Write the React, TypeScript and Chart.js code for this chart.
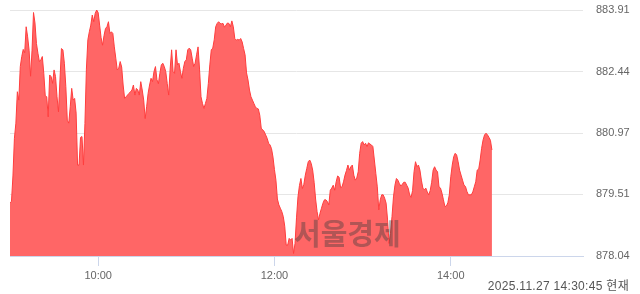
import React, { useEffect, useRef } from "react";
import { Chart, registerables } from "chart.js";

Chart.register(...registerables);

// Minute-by-minute index values starting at 09:00
const startMinuteOfDay = 9 * 60;
const values: number[] = [
  879.31, 879.34, 879.95, 880.85, 881.21, 881.96, 881.76, 882.56, 882.80, 882.97,
  882.89, 883.51, 883.27, 882.95, 882.33, 882.95, 883.85, 883.60, 883.11, 882.88,
  882.68, 882.72, 882.80, 882.40, 881.86, 881.84, 881.36, 882.36, 882.32, 882.16,
  882.48, 882.32, 881.84, 881.48, 882.24, 882.99, 882.96, 882.64, 882.08, 881.28,
  881.21, 881.60, 882.04, 881.76, 881.80, 881.45, 880.21, 880.21, 880.87, 880.89,
  880.21, 881.20, 882.50, 883.20, 883.39, 883.55, 883.79, 883.63, 883.83, 883.91,
  883.85, 883.55, 883.25, 883.07, 883.30, 883.47, 883.51, 883.63, 883.35, 883.39,
  883.35, 883.03, 882.76, 882.48, 882.52, 882.68, 882.55, 882.12, 881.80, 881.84,
  881.88, 881.92, 881.96, 882.00, 882.12, 881.88, 882.04, 882.00, 881.88, 882.20,
  882.00, 881.76, 881.32, 881.60, 881.92, 882.12, 882.28, 882.20, 882.44, 882.56,
  882.25, 882.15, 882.40, 882.60, 882.64, 882.56, 882.44, 882.16, 881.88, 882.50,
  882.96, 882.44, 882.40, 882.96, 882.60, 882.64, 882.44, 882.28, 882.52, 882.68,
  882.72, 882.96, 883.00, 882.96, 882.76, 882.56, 882.64, 882.84, 883.03, 882.50,
  881.84, 881.68, 881.56, 881.68, 881.80, 882.16, 882.60, 882.96, 883.00, 883.20,
  883.51, 883.59, 883.63, 883.59, 883.58, 883.59, 883.50, 883.55, 883.60, 883.59,
  883.51, 883.65, 883.51, 883.23, 883.19, 883.21, 883.19, 883.23, 883.15, 882.99,
  882.84, 882.41, 882.24, 882.00, 881.84, 881.76, 881.68, 881.60, 881.56, 881.55,
  881.40, 881.09, 881.05, 881.01, 880.93, 880.85, 880.73, 880.69, 880.60, 880.40,
  880.10, 879.85, 879.40, 879.26, 879.18, 879.10, 878.98, 878.75, 878.30, 878.30,
  878.46, 878.42, 878.46, 878.10, 878.34, 878.95, 879.45, 879.72, 879.89, 879.65,
  879.75, 879.97, 880.13, 880.29, 880.33, 880.25, 880.09, 879.80, 879.40, 879.10,
  878.90, 879.06, 879.18, 879.30, 879.38, 879.38, 879.34, 879.26, 879.61, 879.66,
  879.73, 879.61, 879.81, 879.95, 879.92, 879.67, 879.69, 879.81, 879.97, 880.08,
  880.21, 880.09, 880.17, 880.21, 879.97, 879.85, 879.90, 880.05, 880.49, 880.73,
  880.77, 880.69, 880.73, 880.65, 880.74, 880.71, 880.69, 880.65, 880.33, 880.01,
  879.69, 879.14, 879.38, 879.50, 879.50, 879.42, 879.30, 878.90, 878.34, 878.58,
  878.98, 879.45, 879.73, 879.89, 879.85, 879.77, 879.71, 879.75, 879.80, 879.80,
  879.73, 879.66, 879.50, 879.44, 879.60, 880.05, 880.29, 880.17, 880.21, 880.09,
  879.85, 879.66, 879.62, 879.66, 879.57, 879.50, 879.60, 879.80, 880.09, 880.17,
  880.09, 880.05, 879.69, 879.66, 879.54, 879.38, 879.22, 879.23, 879.31, 879.50,
  879.93, 880.21, 880.41, 880.49, 880.45, 880.29, 880.09, 879.97, 879.85, 879.73,
  879.70, 879.58, 879.50, 879.50, 879.50, 879.57, 879.69, 879.81, 880.09, 880.11,
  880.33, 880.61, 880.81, 880.93, 880.97, 880.93, 880.87, 880.80, 880.57,
];

const xMinMinute = 9 * 60;
const xMaxMinute = 15 * 60 + 30;
const xTickMinutes = [10 * 60, 12 * 60, 14 * 60];
const xTickLabels = ["10:00", "12:00", "14:00"];
const yTicks = [878.04, 879.51, 880.97, 882.44, 883.91];
const yTickLabels = ["878.04", "879.51", "880.97", "882.44", "883.91"];
const watermark = "서울경제";
const timestamp = "2025.11.27 14:30:45 현재";

const FONT = '"Liberation Sans", Arial, "Noto Sans CJK KR", sans-serif';

export default function App() {
  const canvasRef = useRef<HTMLCanvasElement | null>(null);

  useEffect(() => {
    document.body.style.margin = "0";
    const canvas = canvasRef.current;
    if (!canvas) return;
    const points = values.map((v, i) => ({ x: startMinuteOfDay + i, y: v }));
    const chart = new Chart(canvas, {
      type: "line",
      data: {
        datasets: [
          {
            data: points,
            borderColor: "#ff3d3d",
            borderWidth: 1,
            backgroundColor: "#ff6666",
            fill: "start",
            pointRadius: 0,
            tension: 0,
          },
        ],
      },
      options: {
        responsive: false,
        animation: false,
        devicePixelRatio: 1,
        layout: { padding: { left: 10, top: 10, right: 0, bottom: 0 } },
        plugins: { legend: { display: false }, tooltip: { enabled: false } },
        scales: {
          x: {
            type: "linear",
            min: xMinMinute,
            max: xMaxMinute,
            afterBuildTicks: (scale: any) => {
              scale.ticks = xTickMinutes.map((v) => ({ value: v }));
            },
            afterFit: (scale: any) => {
              scale.height = 38;
            },
            ticks: {
              autoSkip: false,
              maxRotation: 0,
              padding: 3,
              color: "#666666",
              font: { family: FONT, size: 11 },
              callback: (_v: any, i: number) => xTickLabels[i],
            },
            grid: {
              drawOnChartArea: false,
              drawTicks: true,
              tickLength: 10,
              color: "#ccd6eb",
            },
            border: { display: true, color: "#ccd6eb", width: 1 },
          },
          y: {
            position: "right",
            min: yTicks[0],
            max: yTicks[yTicks.length - 1],
            afterBuildTicks: (scale: any) => {
              scale.ticks = yTicks.map((v) => ({ value: v }));
            },
            afterFit: (scale: any) => {
              scale.width = 57;
            },
            ticks: {
              padding: 0,
              color: "#666666",
              font: { family: FONT, size: 11 },
              callback: (_v: any, i: number) => yTickLabels[i],
            },
            grid: {
              drawTicks: true,
              tickLength: 13,
              tickColor: "rgba(0,0,0,0)",
              color: (ctx: any) =>
                ctx.tick && ctx.tick.value === yTicks[0] ? "rgba(0,0,0,0)" : "#e6e6e6",
            },
            border: { display: false },
          },
        },
      },
    } as any);
    return () => chart.destroy();
  }, []);

  return (
    <div style={{ position: "relative", width: 640, height: 294, background: "#fff" }}>
      <canvas ref={canvasRef} width={640} height={294} style={{ display: "block", width: 640, height: 294 }} />
      <div
        style={{
          position: "absolute",
          left: 294,
          top: 215,
          fontFamily: '"Noto Sans CJK KR", sans-serif',
          fontWeight: 700,
          fontSize: 29,
          lineHeight: "34px",
          color: "rgba(60,60,60,0.4)",
          pointerEvents: "none",
          whiteSpace: "nowrap",
        }}
      >
        {watermark}
      </div>
      <div
        style={{
          position: "absolute",
          right: 11,
          top: 278,
          fontFamily: FONT,
          fontSize: 12,
          lineHeight: "16px",
          letterSpacing: "0.3px",
          color: "#555555",
          whiteSpace: "nowrap",
        }}
      >
        {timestamp}
      </div>
    </div>
  );
}
